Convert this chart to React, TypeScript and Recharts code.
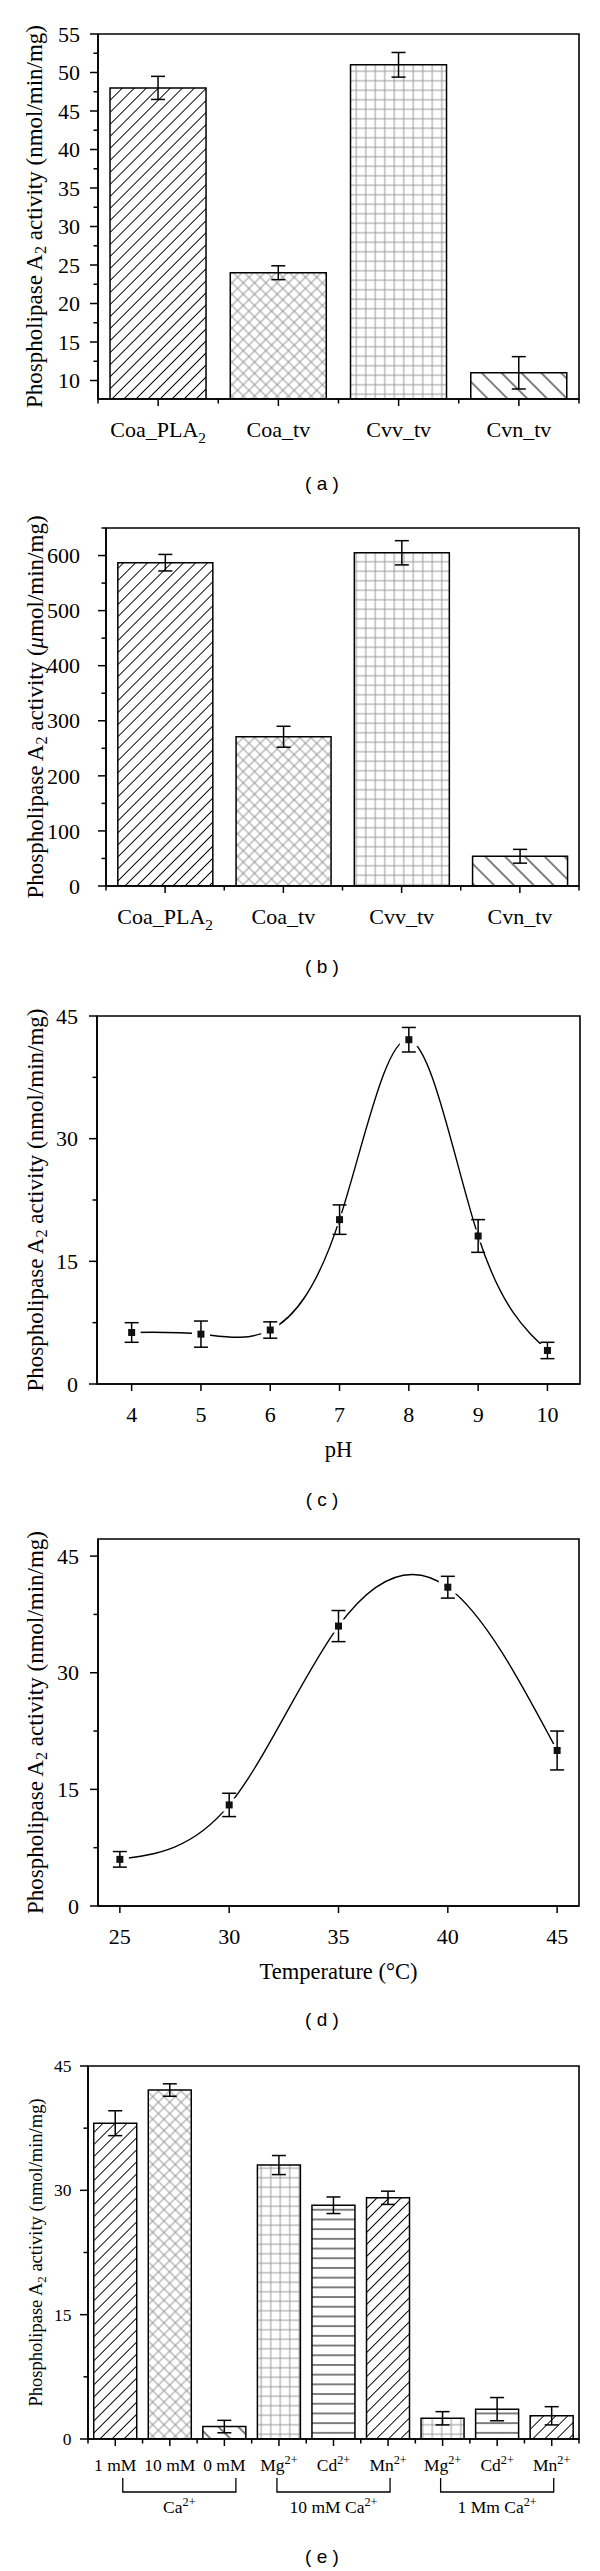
import React from "react";
import {
  Bar,
  BarChart,
  Cell,
  ErrorBar,
  Line,
  LineChart,
  ReferenceArea,
  XAxis,
  YAxis,
} from "recharts";

const SERIF = "'Liberation Serif', 'Times New Roman', serif";
const SANS = "'Liberation Sans', Arial, sans-serif";

// (a) activity, nmol/min/mg
const aNames = ["Coa_PLA₂", "Coa_tv", "Cvv_tv", "Cvn_tv"];
const aValues = [48, 24, 51, 11];
const aErrors = [1.5, 0.9, 1.6, 2.1];
const aTicks = [10, 12.5, 15, 17.5, 20, 22.5, 25, 27.5, 30, 32.5, 35, 37.5, 40, 42.5, 45, 47.5, 50, 52.5, 55];
const aMajor = [10, 15, 20, 25, 30, 35, 40, 45, 50, 55];

// (b) activity, umol/min/mg
const bNames = ["Coa_PLA₂", "Coa_tv", "Cvv_tv", "Cvn_tv"];
const bValues = [587, 271, 605, 54];
const bErrors = [15, 19, 22, 12.5];
const bTicks = [0, 50, 100, 150, 200, 250, 300, 350, 400, 450, 500, 550, 600, 650];
const bMajor = [0, 100, 200, 300, 400, 500, 600];

// (c) pH profile
const cPH = [4, 5, 6, 7, 8, 9, 10];
const cValues = [6.3, 6.1, 6.6, 20.1, 42.1, 18.1, 4.1];
const cErrors = [1.2, 1.6, 1.0, 1.8, 1.5, 2.0, 1.0];

// (d) temperature profile
const dTemp = [25, 30, 35, 40, 45];
const dValues = [6, 13, 36, 41, 20];
const dErrors = [1, 1.5, 2, 1.4, 2.5];

// (e) ions
const eNames = ["1 mM", "10 mM", "0 mM", "Mg²⁺", "Cd²⁺", "Mn²⁺", "Mg²⁺", "Cd²⁺", "Mn²⁺"];
const eValues = [38.1, 42.1, 1.5, 33.05, 28.2, 29.1, 2.5, 3.6, 2.8];
const eErrors = [1.5, 0.75, 0.75, 1.15, 1.0, 0.8, 0.8, 1.4, 1.1];
const eGroups = ["Ca²⁺", "10 mM Ca²⁺", "1 Mm Ca²⁺"];

const y45Ticks = [0, 7.5, 15, 22.5, 30, 37.5, 45];
const y45Major = [0, 15, 30, 45];

const abFills = ["pFwd", "pCross", "pGrid", "pBack"];
const eFills = ["pFwd", "pCross", "pBack", "pGrid", "pHoriz", "pFwd", "pGrid", "pHoriz", "pFwd"];
const eGroupShift = [9.5, 0, 0];

const aData = aNames.map((name, i) => ({ name, v: aValues[i], e: aErrors[i] }));
const bData = bNames.map((name, i) => ({ name, v: bValues[i], e: bErrors[i] }));
const cData = cPH.map((x, i) => ({ x, v: cValues[i], e: cErrors[i] }));
const dData = dTemp.map((x, i) => ({ x, v: dValues[i], e: dErrors[i] }));
const eData = eNames.map((name, i) => ({ name, v: eValues[i], e: eErrors[i] }));

const SUB: Record<string, string> = { "₂": "2" };
const SUP: Record<string, string> = { "²": "2", "⁺": "+" };

function Rich({ s, fs }: { s: string; fs: number }) {
  const runs: { t: string; k: string }[] = [];
  for (const ch of String(s)) {
    const k = SUB[ch] ? "sub" : SUP[ch] ? "sup" : ch === "μ" ? "it" : "n";
    const t = SUB[ch] ?? SUP[ch] ?? ch;
    const last = runs[runs.length - 1];
    if (last && last.k === k) last.t += t;
    else runs.push({ t, k });
  }
  let shift = 0;
  return (
    <>
      {runs.map((r, i) => {
        const target = r.k === "sub" ? fs * 0.25 : r.k === "sup" ? -fs * 0.4 : 0;
        const dy = target - shift;
        shift = target;
        const small = r.k === "sub" || r.k === "sup";
        return (
          <tspan
            key={i}
            dy={dy}
            fontSize={small ? fs * 0.7 : fs}
            fontStyle={r.k === "it" ? "italic" : "normal"}
          >
            {r.t}
          </tspan>
        );
      })}
    </>
  );
}

// rotated y title; centred on the plot area (cy in chart coords)
function YTitle(props: any) {
  const { lx, cy, fs, text } = props;
  return (
    <text
      x={lx}
      y={cy}
      transform={`rotate(-90, ${lx}, ${cy})`}
      textAnchor="middle"
      dominantBaseline="central"
      fontFamily={SERIF}
      fontSize={fs}
      fill="#000"
    >
      <Rich s={text} fs={fs} />
    </text>
  );
}

function XTitle(props: any) {
  const { lx, ly, fs, text } = props;
  return (
    <text x={lx} y={ly} textAnchor="middle" fontFamily={SERIF} fontSize={fs} fill="#000">
      {text}
    </text>
  );
}

function makeYTick(majors: number[], fs: number, gap: number) {
  return (p: any) => {
    const { x, y, payload } = p;
    const major = majors.includes(payload.value);
    return (
      <g>
        <line x1={x - (major ? 8 : 4.5)} x2={x} y1={y} y2={y} stroke="#000" strokeWidth={1.5} />
        {major && (
          <text x={x - gap} y={y} dy="0.35em" textAnchor="end" fontFamily={SERIF} fontSize={fs} fill="#000">
            {payload.value}
          </text>
        )}
      </g>
    );
  };
}

function makeCatTick(n: number, plotW: number, fs: number, labelDy: number, groups?: string[]) {
  const band = plotW / n;
  return (p: any) => {
    const { x, y, payload } = p;
    const i = p.index ?? payload.index ?? 0;
    const g = Math.floor(i / 3);
    const s = eGroupShift[g] ?? 0;
    const half = band + 2;
    return (
      <g>
        <line x1={x} x2={x} y1={y} y2={y + 7} stroke="#000" strokeWidth={1.5} />
        <line x1={x - band / 2} x2={x - band / 2} y1={y} y2={y + 4.5} stroke="#000" strokeWidth={1.5} />
        {i === n - 1 && (
          <line x1={x + band / 2} x2={x + band / 2} y1={y} y2={y + 4.5} stroke="#000" strokeWidth={1.5} />
        )}
        <text x={x} y={y + labelDy} textAnchor="middle" fontFamily={SERIF} fontSize={fs} fill="#000">
          <Rich s={payload.value} fs={fs} />
        </text>
        {groups && i % 3 === 1 && (
          <g>
            <path
              d={`M${x - half + s},${y + 39} V${y + 53} H${x + half + s} V${y + 39}`}
              fill="none"
              stroke="#000"
              strokeWidth={1.3}
            />
            <text x={x + s} y={y + 74} textAnchor="middle" fontFamily={SERIF} fontSize={fs} fill="#000">
              <Rich s={groups[g]} fs={fs} />
            </text>
          </g>
        )}
      </g>
    );
  };
}

function makeNumTick(fs: number, labelDy: number) {
  return (p: any) => {
    const { x, y, payload } = p;
    return (
      <g>
        <line x1={x} x2={x} y1={y} y2={y + 7} stroke="#000" strokeWidth={1.5} />
        <text x={x} y={y + labelDy} textAnchor="middle" fontFamily={SERIF} fontSize={fs} fill="#000">
          {payload.value}
        </text>
      </g>
    );
  };
}

const axisLine = { stroke: "#000", strokeWidth: 1.6 };

function PanelLabel({ text, top }: { text: string; top: number }) {
  return (
    <div
      style={{
        position: "absolute",
        left: 222,
        top,
        width: 200,
        textAlign: "center",
        fontFamily: SANS,
        fontSize: 19,
        lineHeight: "20px",
        whiteSpace: "pre",
        color: "#000",
      }}
    >
      {text}
    </div>
  );
}

function Patterns() {
  return (
    <svg width={0} height={0} style={{ position: "absolute" }}>
      <defs>
        <pattern id="pFwd" patternUnits="userSpaceOnUse" width={8.5} height={8.5} patternTransform="rotate(45)">
          <line x1={4.25} y1={0} x2={4.25} y2={8.5} stroke="#000" strokeWidth={1} />
        </pattern>
        <pattern id="pBack" patternUnits="userSpaceOnUse" width={14} height={14} patternTransform="rotate(-45)">
          <line x1={7} y1={0} x2={7} y2={14} stroke="#000" strokeWidth={1} />
        </pattern>
        <pattern id="pCross" patternUnits="userSpaceOnUse" width={8} height={8} patternTransform="rotate(45)">
          <line x1={4} y1={0} x2={4} y2={8} stroke="#8c8c8c" strokeWidth={0.9} />
          <line x1={0} y1={4} x2={8} y2={4} stroke="#8c8c8c" strokeWidth={0.9} />
        </pattern>
        <pattern id="pGrid" patternUnits="userSpaceOnUse" width={9.5} height={9.5}>
          <line x1={4.75} y1={0} x2={4.75} y2={9.5} stroke="#999" strokeWidth={1} />
          <line x1={0} y1={4.75} x2={9.5} y2={4.75} stroke="#999" strokeWidth={1} />
        </pattern>
        <pattern id="pHoriz" patternUnits="userSpaceOnUse" width={10} height={9.7}>
          <line x1={0} y1={4.85} x2={10} y2={4.85} stroke="#000" strokeWidth={1} />
        </pattern>
      </defs>
    </svg>
  );
}

function BarPanel(props: {
  top: number;
  height: number;
  marginTop: number;
  axisW: number;
  xAxisH: number;
  data: any[];
  fills: string[];
  domain: [number, number];
  ticks: number[];
  majors: number[];
  tickFs: number;
  tickGap: number;
  labelFs: number;
  labelDy: number;
  title: string;
  titleFs: number;
  titleX: number;
  gap: string;
  groups?: string[];
}) {
  const right = 21;
  const plotW = 600 - right - props.axisW;
  const plotH = props.height - props.marginTop - props.xAxisH;
  return (
    <div style={{ position: "absolute", left: 0, top: props.top }}>
      <BarChart
        width={600}
        height={props.height}
        data={props.data}
        margin={{ top: props.marginTop, right, bottom: 0, left: 0 }}
        barCategoryGap={props.gap}
      >
        <XAxis
          dataKey="name"
          interval={0}
          height={props.xAxisH}
          tickSize={0}
          tickMargin={0}
          tickLine={false}
          axisLine={axisLine}
          tick={makeCatTick(props.data.length, plotW, props.labelFs, props.labelDy, props.groups)}
        />
        <YAxis
          type="number"
          domain={props.domain}
          ticks={props.ticks}
          interval={0}
          allowDataOverflow
          width={props.axisW}
          tickSize={0}
          tickMargin={0}
          tickLine={false}
          axisLine={axisLine}
          tick={makeYTick(props.majors, props.tickFs, props.tickGap)}
          label={
            <YTitle
              lx={props.titleX}
              cy={props.marginTop + plotH / 2}
              fs={props.titleFs}
              text={props.title}
            />
          }
        />
        <ReferenceArea
          y1={props.domain[0]}
          y2={props.domain[1]}
          fill="none"
          stroke="#000"
          strokeWidth={1.6}
        />
        <Bar dataKey="v" stroke="#000" strokeWidth={1.5} isAnimationActive={false}>
          {props.data.map((_, i) => (
            <Cell key={i} fill={`url(#${props.fills[i]})`} />
          ))}
          <ErrorBar dataKey="e" width={7} stroke="#000" strokeWidth={1.5} />
        </Bar>
      </BarChart>
    </div>
  );
}

// white gap around each marker, with a slit left open for the error bar
function Halo(p: any) {
  const { cx, cy } = p;
  return (
    <g key={`h${p.index}`}>
      <rect x={cx - 9} y={cy - 6.5} width={7.8} height={13} fill="#fff" />
      <rect x={cx + 1.2} y={cy - 6.5} width={7.8} height={13} fill="#fff" />
    </g>
  );
}

function LinePanel(props: {
  top: number;
  height: number;
  marginTop: number;
  axisW: number;
  right: number;
  data: any[];
  xDomain: [number, number];
  xTicks: number[];
  yDomain: [number, number];
  xTitle: string;
}) {
  const xAxisH = 80;
  const plotH = props.height - props.marginTop - xAxisH;
  const plotCx = props.axisW + (600 - props.right - props.axisW) / 2;
  return (
    <div style={{ position: "absolute", left: 0, top: props.top }}>
      <LineChart
        width={600}
        height={props.height}
        data={props.data}
        margin={{ top: props.marginTop, right: props.right, bottom: 0, left: 0 }}
      >
        <XAxis
          dataKey="x"
          type="number"
          domain={props.xDomain}
          ticks={props.xTicks}
          interval={0}
          allowDataOverflow
          height={xAxisH}
          tickSize={0}
          tickMargin={0}
          tickLine={false}
          axisLine={axisLine}
          tick={makeNumTick(22, 38)}
          label={<XTitle lx={plotCx} ly={props.marginTop + plotH + 73} fs={22.5} text={props.xTitle} />}
        />
        <YAxis
          type="number"
          domain={props.yDomain}
          ticks={y45Ticks}
          interval={0}
          allowDataOverflow
          width={props.axisW}
          tickSize={0}
          tickMargin={0}
          tickLine={false}
          axisLine={axisLine}
          tick={makeYTick(y45Major, 22, 19)}
          label={
            <YTitle
              lx={35}
              cy={props.marginTop + plotH / 2}
              fs={23}
              text="Phospholipase A₂ activity (nmol/min/mg)"
            />
          }
        />
        <ReferenceArea
          y1={props.yDomain[0]}
          y2={props.yDomain[1]}
          fill="none"
          stroke="#000"
          strokeWidth={1.6}
        />
        <Line
          dataKey="v"
          type="natural"
          stroke="#000"
          strokeWidth={1.4}
          activeDot={false}
          isAnimationActive={false}
          dot={(p: any) => <Halo key={`h${p.index}`} {...p} />}
        />
        <Line
          dataKey="v"
          type="natural"
          stroke="none"
          activeDot={false}
          isAnimationActive={false}
          dot={(p: any) => (
            <rect key={`m${p.index}`} x={p.cx - 3.5} y={p.cy - 3.5} width={7} height={7} fill="#111" />
          )}
        >
          <ErrorBar dataKey="e" width={7} stroke="#000" strokeWidth={1.5} direction="y" />
        </Line>
      </LineChart>
    </div>
  );
}

export default function App() {
  return (
    <div
      style={{
        position: "absolute",
        left: 0,
        top: 0,
        width: 600,
        height: 2571,
        background: "#fff",
        overflow: "hidden",
      }}
    >
      <Patterns />
      <BarPanel
        top={0}
        height={460}
        marginTop={34}
        axisW={98}
        xAxisH={61}
        data={aData}
        fills={abFills}
        domain={[7.6, 55]}
        ticks={aTicks}
        majors={aMajor}
        tickFs={22}
        tickGap={18}
        labelFs={22}
        labelDy={38}
        title="Phospholipase A₂ activity (nmol/min/mg)"
        titleFs={23}
        titleX={34}
        gap="10%"
      />
      <PanelLabel text="( a )" top={474} />
      <BarPanel
        top={500}
        height={446}
        marginTop={28}
        axisW={106}
        xAxisH={60}
        data={bData}
        fills={abFills}
        domain={[0, 650]}
        ticks={bTicks}
        majors={bMajor}
        tickFs={22}
        tickGap={26}
        labelFs={22}
        labelDy={38}
        title="Phospholipase A₂ activity (μmol/min/mg)"
        titleFs={23}
        titleX={35}
        gap="10%"
      />
      <PanelLabel text="( b )" top={957} />
      <LinePanel
        top={990}
        height={474}
        marginTop={26}
        axisW={97}
        right={20}
        data={cData}
        xDomain={[3.5, 10.47]}
        xTicks={cPH}
        yDomain={[0, 45]}
        xTitle="pH"
      />
      <PanelLabel text="( c )" top={1490} />
      <LinePanel
        top={1515}
        height={471}
        marginTop={24}
        axisW={98}
        right={21}
        data={dData}
        xDomain={[24, 46]}
        xTicks={dTemp}
        yDomain={[0, 47.2]}
        xTitle="Temperature (°C)"
      />
      <PanelLabel text="( d )" top={2010} />
      <BarPanel
        top={2040}
        height={489}
        marginTop={26}
        axisW={88}
        xAxisH={90}
        data={eData}
        fills={eFills}
        domain={[0, 45]}
        ticks={y45Ticks}
        majors={y45Major}
        tickFs={17.5}
        tickGap={16.5}
        labelFs={17.5}
        labelDy={32}
        title="Phospholipase A₂ activity (nmol/min/mg)"
        titleFs={18.5}
        titleX={36}
        gap="10.5%"
        groups={eGroups}
      />
      <PanelLabel text="( e )" top={2547} />
    </div>
  );
}
